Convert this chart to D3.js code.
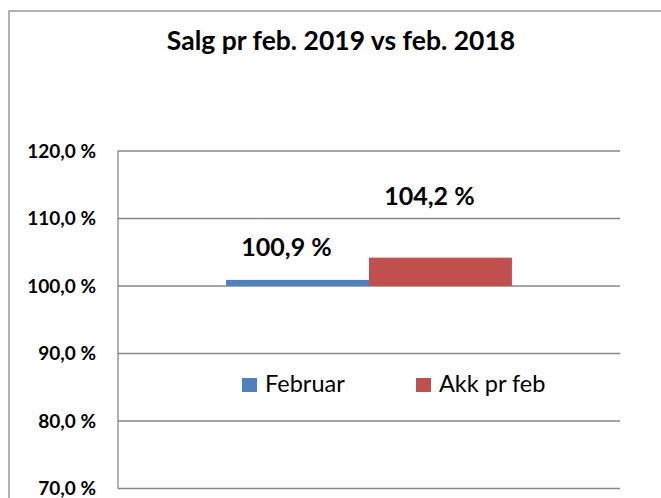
<!DOCTYPE html>
<html>
<head>
<meta charset="utf-8">
<script src="https://cdn.jsdelivr.net/npm/d3@7"></script>
<style>
    body { margin: 0; background: #fff; }
    text { font-family: Lato, "Open Sans", sans-serif; fill: #000; }
</style>
</head>
<body>
<div class="salg-chart"></div>
<script>
    // Data
    const categories = ["feb"];
    const seriesNames = ["Februar", "Akk pr feb"];
    const seriesValues = [1.009, 1.042];
    const yTicks = [0.7, 0.8, 0.9, 1.0, 1.1, 1.2];

    const colors = ["#4F81BD", "#C0504D"];
    const labelLift = [24, 53]; // data labels were moved by hand in the original

    class SalgChart {
        constructor(selector) {
            this.width = 661;
            this.height = 498;
            this.plot = {left: 118, right: 620, top: 151, bottom: 488.5};

            this.svg = d3.select(selector)
                .append("svg")
                .attr("width", this.width)
                .attr("height", this.height);

            const locale = d3.formatLocale({decimal: ",", thousands: " ", grouping: [3], currency: ["", ""]});
            this.fmt = v => locale.format(".1f")(v * 100) + " %";

            this.y = d3.scaleLinear()
                .domain([0.7, 1.2])
                .range([this.plot.bottom, this.plot.top]);

            this.x0 = d3.scaleBand()
                .domain(categories)
                .range([this.plot.left, this.plot.right])
                .paddingInner(0)
                .paddingOuter(0.378);

            this.x1 = d3.scaleBand()
                .domain(seriesNames)
                .range([0, this.x0.bandwidth()]);

            this.draw();
        }

        draw() {
            const svg = this.svg;

            svg.append("rect")
                .attr("x", 9).attr("y", 11)
                .attr("width", 700).attr("height", 600)
                .attr("fill", "none")
                .attr("stroke", "#878787")
                .attr("stroke-width", 1.3);

            svg.append("text")
                .attr("x", 341).attr("y", 50)
                .attr("text-anchor", "middle")
                .attr("font-weight", "bold")
                .attr("font-size", 26.5)
                .text("Salg pr feb. 2019 vs feb. 2018");

            // gridlines
            svg.append("g").selectAll("line")
                .data(yTicks)
                .enter().append("line")
                .attr("x1", this.plot.left).attr("x2", this.plot.right)
                .attr("y1", d => this.y(d)).attr("y2", d => this.y(d))
                .attr("stroke", "#878787")
                .attr("stroke-width", 1.3);

            svg.append("line")
                .attr("x1", this.plot.left).attr("x2", this.plot.left)
                .attr("y1", this.plot.top).attr("y2", this.plot.bottom)
                .attr("stroke", "#878787")
                .attr("stroke-width", 1.3);

            svg.append("g").selectAll("text")
                .data(yTicks)
                .enter().append("text")
                .attr("x", 96)
                .attr("y", d => this.y(d))
                .attr("dy", "0.36em")
                .attr("text-anchor", "end")
                .attr("font-weight", "bold")
                .attr("font-size", 19)
                .text(d => this.fmt(d));

            // bars from the 100 % line
            const rows = seriesNames.map((name, i) => ({name, value: seriesValues[i], i}));
            const g = svg.append("g")
                .attr("transform", `translate(${this.x0(categories[0])},0)`);

            g.selectAll("rect")
                .data(rows)
                .enter().append("rect")
                .attr("x", d => this.x1(d.name))
                .attr("width", this.x1.bandwidth())
                .attr("y", d => this.y(Math.max(d.value, 1)))
                .attr("height", d => Math.abs(this.y(d.value) - this.y(1)))
                .attr("fill", d => colors[d.i]);

            g.selectAll("text")
                .data(rows)
                .enter().append("text")
                .attr("x", d => this.x1(d.name) + this.x1.bandwidth() / 2 - 11)
                .attr("y", d => this.y(d.value) - labelLift[d.i])
                .attr("text-anchor", "middle")
                .attr("font-weight", "bold")
                .attr("font-size", 25)
                .text(d => this.fmt(d.value));

            // legend
            const legend = svg.append("g")
                .attr("transform", "translate(242,378)");

            const items = legend.selectAll("g")
                .data(seriesNames)
                .enter().append("g")
                .attr("transform", (d, i) => `translate(${i * 174},0)`);

            items.append("rect")
                .attr("width", 15).attr("height", 14)
                .attr("fill", (d, i) => colors[i]);

            items.append("text")
                .attr("x", 23).attr("y", 14)
                .attr("font-size", 23.5)
                .text(d => d);
        }
    }

    new SalgChart(".salg-chart");
</script>
</body>
</html>
